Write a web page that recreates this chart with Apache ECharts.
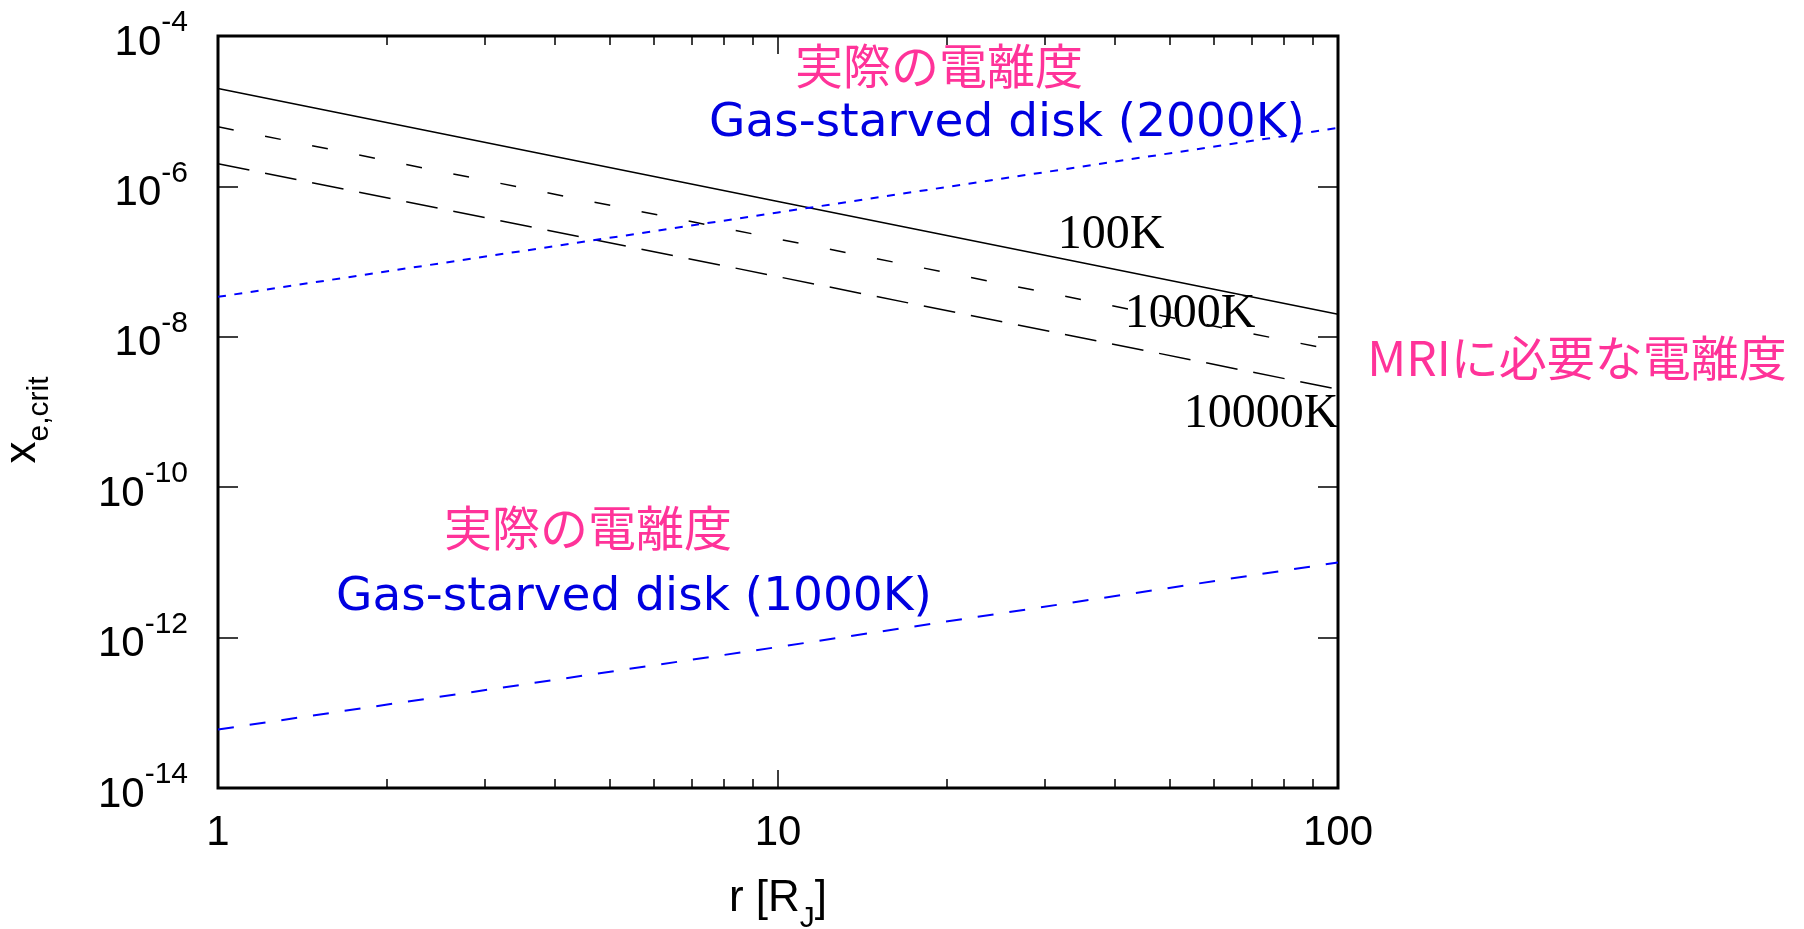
<!DOCTYPE html>
<html>
<head>
<meta charset="utf-8">
<title>x_e,crit vs r</title>
<script src="https://cdn.jsdelivr.net/npm/echarts@6/dist/echarts.min.js"></script>
<style>
  html, body { margin: 0; padding: 0; background: #fff; }
  #chart { width: 1804px; height: 929px; }
</style>
</head>
<body>
<div id="chart"></div>
<script>
// Radius in Jupiter radii
const radius = [1, 10, 100];

// Critical ionisation fraction needed for MRI, per temperature
const xeCrit100K = [2.0e-5, 6.3e-7, 2.0e-8];
const xeCrit1000K = [6.2e-6, 2.0e-7, 6.5e-9];
const xeCrit10000K = [2.0e-6, 6.3e-8, 2.0e-9];

// Actual ionisation fraction in a gas-starved disk
const gasStarved2000K = [3.4e-8, 4.5e-7, 6.0e-6];
const gasStarved1000K = [6.0e-14, 7.5e-13, 1.0e-11];

// Axis ticks
const xMajorTicks = [1, 10, 100];
const xMinorTicks = [2, 3, 4, 5, 6, 7, 8, 9, 20, 30, 40, 50, 60, 70, 80, 90];
const yMajorTicks = [1e-14, 1e-12, 1e-10, 1e-8, 1e-6, 1e-4];

const pairs = (xs, ys) => xs.map((x, i) => [x, ys[i]]);

const chart = echarts.init(document.getElementById('chart'), null, { renderer: 'canvas' });

const gridRect = { left: 218, top: 36, right: 466, bottom: 141 };
const sansFont = 'Liberation Sans';

function logAxisBase(extra) {
  return Object.assign({
    type: 'log',
    logBase: 10,
    axisLine: { show: false },
    splitLine: { show: false },
    minorTick: { show: false },
    minorSplitLine: { show: false }
  }, extra);
}

const option = {
  backgroundColor: '#ffffff',
  animation: false,
  grid: [
    Object.assign({ show: true, borderColor: '#000', borderWidth: 3, backgroundColor: 'transparent' }, gridRect),
    Object.assign({ show: false }, gridRect)
  ],
  xAxis: [
    logAxisBase({
      gridIndex: 0, position: 'bottom', min: 1, max: 100,
      axisTick: { show: true, inside: true, length: 18, customValues: xMajorTicks, lineStyle: { color: '#000', width: 1.5 } },
      axisLabel: {
        show: true, customValues: xMajorTicks, margin: 24,
        color: '#000', fontFamily: sansFont, fontSize: 42,
        formatter: v => String(Math.round(v))
      }
    }),
    logAxisBase({
      gridIndex: 0, position: 'top', min: 1, max: 100,
      axisTick: { show: true, inside: true, length: 18, customValues: xMajorTicks, lineStyle: { color: '#000', width: 1.5 } },
      axisLabel: { show: false }
    }),
    logAxisBase({
      gridIndex: 1, position: 'bottom', min: 1, max: 100,
      axisTick: { show: true, inside: true, length: 9, customValues: xMinorTicks, lineStyle: { color: '#000', width: 1.5 } },
      axisLabel: { show: false }
    }),
    logAxisBase({
      gridIndex: 1, position: 'top', min: 1, max: 100,
      axisTick: { show: true, inside: true, length: 9, customValues: xMinorTicks, lineStyle: { color: '#000', width: 1.5 } },
      axisLabel: { show: false }
    })
  ],
  yAxis: [
    logAxisBase({
      gridIndex: 0, position: 'left', min: 1e-14, max: 1e-4,
      axisTick: { show: true, inside: true, length: 20, customValues: yMajorTicks, lineStyle: { color: '#000', width: 1.5 } },
      axisLabel: {
        show: true, customValues: yMajorTicks, margin: 30,
        formatter: v => '{b|10}{s|' + Math.round(Math.log10(v)) + '}',
        rich: {
          b: { fontFamily: sansFont, fontSize: 42, color: '#000', lineHeight: 56, verticalAlign: 'bottom' },
          s: { fontFamily: sansFont, fontSize: 30, color: '#000', lineHeight: 56, verticalAlign: 'top' }
        }
      }
    }),
    logAxisBase({
      gridIndex: 0, position: 'right', min: 1e-14, max: 1e-4,
      axisTick: { show: true, inside: true, length: 20, customValues: yMajorTicks, lineStyle: { color: '#000', width: 1.5 } },
      axisLabel: { show: false }
    }),
    logAxisBase({
      gridIndex: 1, position: 'left', min: 1e-14, max: 1e-4, show: false
    })
  ],
  series: [
    {
      name: '100K', type: 'line', xAxisIndex: 0, yAxisIndex: 0,
      data: pairs(radius, xeCrit100K), showSymbol: false, silent: true,
      lineStyle: { color: '#000', width: 1.5, type: 'solid' }
    },
    {
      name: '1000K', type: 'line', xAxisIndex: 0, yAxisIndex: 0,
      data: pairs(radius, xeCrit1000K), showSymbol: false, silent: true,
      lineStyle: { color: '#000', width: 1.5, type: [16, 32] }
    },
    {
      name: '10000K', type: 'line', xAxisIndex: 0, yAxisIndex: 0,
      data: pairs(radius, xeCrit10000K), showSymbol: false, silent: true,
      lineStyle: { color: '#000', width: 1.5, type: [32, 16] }
    },
    {
      name: 'Gas-starved disk (2000K)', type: 'line', xAxisIndex: 0, yAxisIndex: 0,
      data: pairs(radius, gasStarved2000K), showSymbol: false, silent: true,
      lineStyle: { color: '#0000ff', width: 2, type: [8, 8.5] }
    },
    {
      name: 'Gas-starved disk (1000K)', type: 'line', xAxisIndex: 0, yAxisIndex: 0,
      data: pairs(radius, gasStarved1000K), showSymbol: false, silent: true,
      lineStyle: { color: '#0000ff', width: 2, type: [16, 16] }
    }
  ],
  graphic: [
    // axis titles
    {
      type: 'text', x: 28, y: 420, rotation: Math.PI / 2,
      style: {
        text: '{a|x}{b|e,crit}', align: 'center', verticalAlign: 'middle',
        rich: {
          a: { fontFamily: sansFont, fontSize: 44, fill: '#000', lineHeight: 54, verticalAlign: 'top' },
          b: { fontFamily: sansFont, fontSize: 30, fill: '#000', lineHeight: 54, verticalAlign: 'bottom' }
        }
      }
    },
    {
      type: 'text', x: 778, y: 905,
      style: {
        text: '{a|r [R}{b|J}{a|]}', align: 'center', verticalAlign: 'middle',
        rich: {
          a: { fontFamily: sansFont, fontSize: 44, fill: '#000', lineHeight: 57, verticalAlign: 'top' },
          b: { fontFamily: sansFont, fontSize: 30, fill: '#000', lineHeight: 57, verticalAlign: 'bottom' }
        }
      }
    },
    // curve labels
    { type: 'text', x: 1111, y: 235, style: { text: '100K', font: '48px "Liberation Serif"', fill: '#000', align: 'center', verticalAlign: 'middle' } },
    { type: 'text', x: 1190, y: 314, style: { text: '1000K', font: '48px "Liberation Serif"', fill: '#000', align: 'center', verticalAlign: 'middle' } },
    { type: 'text', x: 1261, y: 414, style: { text: '10000K', font: '48px "Liberation Serif"', fill: '#000', align: 'center', verticalAlign: 'middle' } },
    // annotations
    { type: 'text', x: 939, y: 66, style: { text: '実際の電離度', font: '48px "Noto Sans CJK JP"', fill: '#ff3399', align: 'center', verticalAlign: 'middle' } },
    { type: 'text', x: 1007, y: 124, style: { text: 'Gas-starved disk (2000K)', font: '47px "DejaVu Sans"', fill: '#0000e0', align: 'center', verticalAlign: 'middle' } },
    { type: 'text', x: 588, y: 528, style: { text: '実際の電離度', font: '48px "Noto Sans CJK JP"', fill: '#ff3399', align: 'center', verticalAlign: 'middle' } },
    { type: 'text', x: 634, y: 598, style: { text: 'Gas-starved disk (1000K)', font: '47px "DejaVu Sans"', fill: '#0000e0', align: 'center', verticalAlign: 'middle' } },
    { type: 'text', x: 1577, y: 358, style: { text: 'MRIに必要な電離度', font: '48px "Noto Sans CJK JP"', fill: '#ff3399', align: 'center', verticalAlign: 'middle' } }
  ]
};

chart.setOption(option);
</script>
</body>
</html>
